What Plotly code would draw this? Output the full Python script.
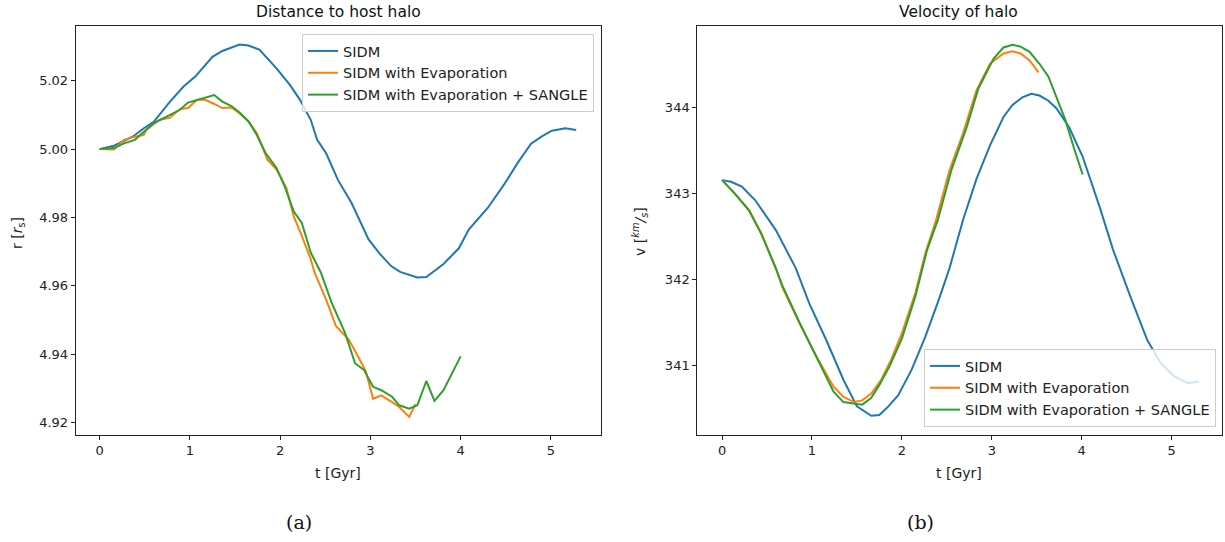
import plotly.graph_objects as go

# ---------------- Data: Distance to host halo ----------------
t_r_sidm = [0, 0.16, 0.37, 0.49, 0.6, 0.78, 0.93, 1.06, 1.25, 1.36, 1.55, 1.65, 1.77, 1.96,
            2.11, 2.22, 2.34, 2.41, 2.51, 2.64, 2.79, 2.98, 3.1, 3.23, 3.33, 3.45, 3.52, 3.62,
            3.72, 3.81, 3.98, 4.09, 4.3, 4.48, 4.63, 4.78, 4.9, 5.01, 5.16, 5.28]
r_sidm = [5.000, 5.001, 5.0037, 5.0061, 5.008, 5.0139, 5.0183, 5.0212, 5.027, 5.0287, 5.0306,
          5.0303, 5.0291, 5.0236, 5.0187, 5.0144, 5.0085, 5.0027, 4.9988, 4.991, 4.9843, 4.9736,
          4.9695, 4.9658, 4.9641, 4.963, 4.9625, 4.9626, 4.9645, 4.9664, 4.971, 4.9765, 4.9828,
          4.9896, 4.9959, 5.0016, 5.0037, 5.0054, 5.0061, 5.0056]

t_r_evap = [0, 0.16, 0.27, 0.37, 0.49, 0.52, 0.66, 0.78, 0.89, 0.98, 1.08, 1.17, 1.27, 1.36,
            1.46, 1.55, 1.65, 1.74, 1.86, 1.96, 2.07, 2.15, 2.24, 2.34, 2.38, 2.51, 2.62, 2.76,
            2.85, 2.95, 3.03, 3.12, 3.24, 3.32, 3.43, 3.5]
r_evap = [5.000, 4.9999, 5.0027, 5.0035, 5.0042, 5.0057, 5.0085, 5.0092, 5.0117, 5.012, 5.0144,
          5.0144, 5.0132, 5.012, 5.0122, 5.0105, 5.0081, 5.0047, 4.9969, 4.994, 4.9886, 4.9804,
          4.9746, 4.9678, 4.964, 4.956, 4.9482, 4.9443, 4.940, 4.935, 4.927, 4.928, 4.926,
          4.9246, 4.9217, 4.9254]

t_r_sangle = [0, 0.16, 0.27, 0.39, 0.49, 0.6, 0.78, 0.89, 0.98, 1.08, 1.17, 1.27, 1.36, 1.46,
              1.55, 1.65, 1.74, 1.84, 1.96, 2.05, 2.15, 2.24, 2.34, 2.45, 2.57, 2.72, 2.83,
              2.93, 3.03, 3.12, 3.24, 3.32, 3.43, 3.52, 3.62, 3.71, 3.81, 3.9, 4.0]
r_sangle = [5.000, 5.0003, 5.0017, 5.0027, 5.0051, 5.0076, 5.010, 5.0115, 5.0136, 5.0144,
            5.0149, 5.0158, 5.0139, 5.0126, 5.0107, 5.0081, 5.0042, 4.9988, 4.9945, 4.9891,
            4.9818, 4.9784, 4.9697, 4.964, 4.9551, 4.9462, 4.9374, 4.9354, 4.9305, 4.9295,
            4.9276, 4.9251, 4.9241, 4.9251, 4.9322, 4.9264, 4.9295, 4.9344, 4.9394]

# ---------------- Data: Velocity of halo ----------------
t_v_sidm = [0, 0.1, 0.22, 0.37, 0.6, 0.82, 0.97, 1.16, 1.35, 1.5, 1.66, 1.75, 1.85, 1.96,
            2.11, 2.26, 2.41, 2.53, 2.68, 2.83, 2.98, 3.13, 3.23, 3.34, 3.44, 3.53, 3.63, 3.72,
            3.86, 4.01, 4.2, 4.35, 4.54, 4.73, 4.88, 5.03, 5.18, 5.3]
v_sidm = [343.155, 343.136, 343.08, 342.92, 342.57, 342.13, 341.72, 341.29, 340.83, 340.52,
          340.41, 340.42, 340.52, 340.65, 340.95, 341.33, 341.76, 342.13, 342.69, 343.17,
          343.56, 343.89, 344.03, 344.12, 344.16, 344.14, 344.08, 343.99, 343.77, 343.43,
          342.84, 342.34, 341.8, 341.29, 341.02, 340.87, 340.79, 340.81]

t_v_evap = [0, 0.14, 0.3, 0.44, 0.6, 0.67, 0.86, 1.05, 1.24, 1.35, 1.47, 1.56, 1.66, 1.77,
            1.88, 2.0, 2.15, 2.26, 2.38, 2.53, 2.68, 2.83, 2.98, 3.13, 3.23, 3.32, 3.42, 3.52]
v_evap = [343.155, 343.0, 342.81, 342.53, 342.13, 341.91, 341.49, 341.1, 340.75, 340.63,
          340.57, 340.59, 340.67, 340.83, 341.06, 341.37, 341.84, 342.30, 342.69, 343.27,
          343.70, 344.2, 344.51, 344.63, 344.655, 344.63, 344.55, 344.41]

t_v_sangle = [0, 0.14, 0.3, 0.44, 0.6, 0.67, 0.86, 1.05, 1.24, 1.35, 1.47, 1.56, 1.66, 1.75,
              1.86, 2.0, 2.15, 2.28, 2.4, 2.55, 2.72, 2.85, 3.02, 3.13, 3.23, 3.32, 3.42, 3.53,
              3.63, 3.72, 3.82, 3.91, 4.01]
v_sangle = [343.155, 343.0, 342.8, 342.52, 342.12, 341.93, 341.5, 341.1, 340.69, 340.57,
            340.55, 340.54, 340.62, 340.77, 340.98, 341.31, 341.80, 342.34, 342.69, 343.27,
            343.77, 344.22, 344.57, 344.70, 344.73, 344.71, 344.65, 344.51, 344.36, 344.12,
            343.85, 343.54, 343.22]

series_names = ["SIDM", "SIDM with Evaporation", "SIDM with Evaporation + SANGLE"]
colors = ["#1f77b4", "#ff7f0e", "#2ca02c"]

r_ticks = [4.92, 4.94, 4.96, 4.98, 5.00, 5.02]
v_ticks = [341, 342, 343, 344]
t_ticks = [0, 1, 2, 3, 4, 5]

W, H = 1225, 542
FONT = "DejaVu Sans, Arial, sans-serif"
SERIF = "DejaVu Serif, Liberation Serif, serif"

def px_x(p):
    return p / W

def px_y(p):
    return 1 - p / H

fig = go.Figure()

left = [(t_r_sidm, r_sidm), (t_r_evap, r_evap), (t_r_sangle, r_sangle)]
right = [(t_v_sidm, v_sidm), (t_v_evap, v_evap), (t_v_sangle, v_sangle)]

for (tx, ty), name, c in zip(left, series_names, colors):
    fig.add_trace(go.Scatter(x=tx, y=ty, mode="lines", name=name,
                             line=dict(color=c, width=2), xaxis="x", yaxis="y",
                             legend="legend"))
for (tx, ty), name, c in zip(right, series_names, colors):
    fig.add_trace(go.Scatter(x=tx, y=ty, mode="lines", name=name,
                             line=dict(color=c, width=2), xaxis="x2", yaxis="y2",
                             legend="legend2"))

axis_common = dict(showline=True, linecolor="#222", linewidth=1, mirror=True,
                   ticks="outside", ticklen=4, tickwidth=1, tickcolor="#222",
                   showgrid=False, zeroline=False,
                   tickfont=dict(family=FONT, size=13, color="#222"))

legend_common = dict(bgcolor="rgba(255,255,255,0.8)", bordercolor="#cccccc", borderwidth=1,
                     font=dict(family=FONT, size=14.5, color="#222"), tracegroupgap=0)

ydom = [px_y(434.7), px_y(26)]
fig.update_layout(
    width=W, height=H,
    margin=dict(l=0, r=0, t=0, b=0),
    paper_bgcolor="white", plot_bgcolor="white",
    font=dict(family=FONT, color="#222"),
    xaxis=dict(domain=[px_x(75.7), px_x(601)], range=[-0.265, 5.555], tickvals=t_ticks,
               anchor="y", **axis_common),
    yaxis=dict(domain=ydom, range=[4.9165, 5.036], tickvals=r_ticks, tickformat=".2f",
               anchor="x", **axis_common),
    xaxis2=dict(domain=[px_x(697.3), px_x(1222)], range=[-0.275, 5.56], tickvals=t_ticks,
                anchor="y2", **axis_common),
    yaxis2=dict(domain=ydom, range=[340.19, 344.95], tickvals=v_ticks,
                anchor="x2", **axis_common),
    legend=dict(x=px_x(594), y=px_y(34), xanchor="right", yanchor="top", **legend_common),
    legend2=dict(x=px_x(1216), y=px_y(427), xanchor="right", yanchor="bottom", **legend_common),
    showlegend=True,
)

def label(text, x, y, size, family=FONT, angle=0, color="#222"):
    return dict(text=text, x=px_x(x), y=px_y(y), xref="paper", yref="paper",
                xanchor="center", yanchor="middle", showarrow=False, textangle=angle,
                font=dict(family=family, size=size, color=color))

ann = [
    label("Distance to host halo", 338, 12, 15.5, color="#111"),
    label("Velocity of halo", 959, 12, 15.5, color="#111"),
    label("t [Gyr]", 338, 473, 14),
    label("t [Gyr]", 959, 473, 14),
    label("r [<i>r</i><sub>s</sub>]", 18, 233, 14, angle=-90),
    label("v [<i><sup>km</sup>/<sub>s</sub></i>]", 640, 232, 14, angle=-90),
    label("(a)", 299, 522, 19, family=SERIF, color="#111"),
    label("(b)", 920, 522, 19, family=SERIF, color="#111"),
]
fig.update_layout(annotations=ann)

fig.write_html("out.html")
